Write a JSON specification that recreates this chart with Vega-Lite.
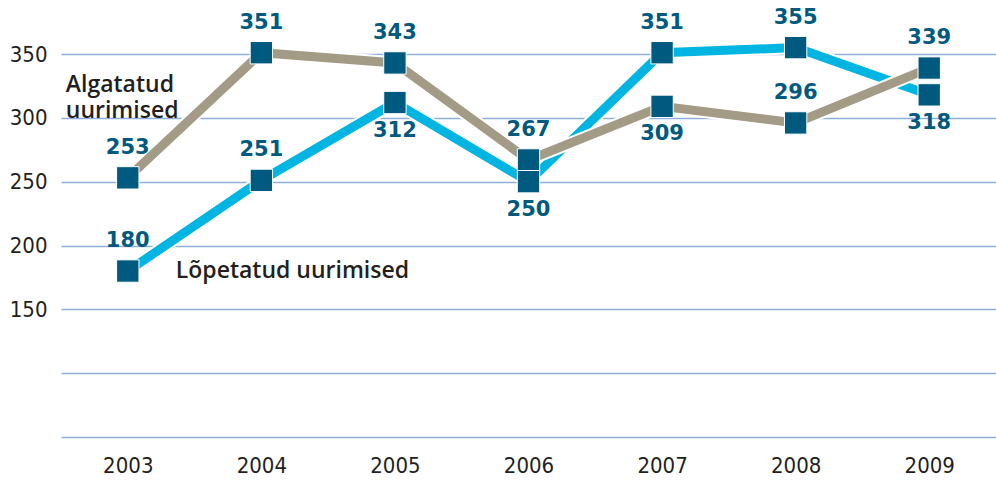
{
  "$schema": "https://vega.github.io/schema/vega-lite/v6.json",
  "autosize": "none",
  "padding": {"left": 61, "top": 0, "right": 0, "bottom": 59},
  "width": 935,
  "height": 437,
  "background": "white",
  "config": {"view": {"stroke": null}},
  "data": {"values": [
    {"year": "2003", "series": "Algatatud uurimised", "value": 253},
    {"year": "2004", "series": "Algatatud uurimised", "value": 351},
    {"year": "2005", "series": "Algatatud uurimised", "value": 343},
    {"year": "2006", "series": "Algatatud uurimised", "value": 267},
    {"year": "2007", "series": "Algatatud uurimised", "value": 309},
    {"year": "2008", "series": "Algatatud uurimised", "value": 296},
    {"year": "2009", "series": "Algatatud uurimised", "value": 339},
    {"year": "2003", "series": "Lõpetatud uurimised", "value": 180},
    {"year": "2004", "series": "Lõpetatud uurimised", "value": 251},
    {"year": "2005", "series": "Lõpetatud uurimised", "value": 312},
    {"year": "2006", "series": "Lõpetatud uurimised", "value": 250},
    {"year": "2007", "series": "Lõpetatud uurimised", "value": 351},
    {"year": "2008", "series": "Lõpetatud uurimised", "value": 355},
    {"year": "2009", "series": "Lõpetatud uurimised", "value": 318}
  ]},
  "encoding": {
    "x": {"field": "year", "type": "ordinal", "scale": {"type": "point", "padding": 0.5},
      "axis": {"title": null, "domain": false, "ticks": false, "labelAngle": 0, "labelFont": "DejaVu Sans Condensed", "labelFontSize": 22, "labelColor": "#231f20", "labelPadding": 18, "grid": false}},
    "y": {"field": "value", "type": "quantitative", "scale": {"domain": [50, 392.3], "nice": false, "zero": false},
      "axis": {"title": null, "domain": false, "ticks": false, "values": [50, 100, 150, 200, 250, 300, 350],
        "labelExpr": "datum.value >= 150 ? datum.label : ''", "labelFont": "DejaVu Sans Condensed", "labelFontSize": 22, "labelColor": "#231f20", "labelPadding": 14,
        "grid": true, "gridColor": "#8fb0dc", "gridWidth": 1.6, "gridOpacity": 1}}
  },
  "layer": [
    {"transform": [{"filter": "datum.series == 'Lõpetatud uurimised'"}],
     "mark": {"type": "line", "color": "white", "strokeWidth": 13, "strokeJoin": "miter"}},
    {"transform": [{"filter": "datum.series == 'Lõpetatud uurimised'"}],
     "mark": {"type": "line", "color": "#00b5e2", "strokeWidth": 9, "strokeJoin": "miter"}},
    {"transform": [{"filter": "datum.series == 'Algatatud uurimised'"}],
     "mark": {"type": "line", "color": "white", "strokeWidth": 13, "strokeJoin": "miter"}},
    {"transform": [{"filter": "datum.series == 'Algatatud uurimised'"}],
     "mark": {"type": "line", "color": "#a39b86", "strokeWidth": 9, "strokeJoin": "miter"}},
    {"mark": {"type": "square", "size": 500, "filled": true, "color": "#005a7f", "opacity": 1, "stroke": "white", "strokeWidth": 1}},
    {"transform": [{"filter": "!((datum.series == 'Algatatud uurimised' && datum.year == '2007') || (datum.series == 'Lõpetatud uurimised' && (datum.year == '2005' || datum.year == '2006' || datum.year == '2009')))"}],
     "mark": {"type": "text", "font": "DejaVu Sans", "fontWeight": "bold", "fontSize": 21, "color": "#005a7f", "baseline": "middle", "dy": -30},
     "encoding": {"text": {"field": "value", "type": "quantitative"}}},
    {"transform": [{"filter": "(datum.series == 'Algatatud uurimised' && datum.year == '2007') || (datum.series == 'Lõpetatud uurimised' && (datum.year == '2005' || datum.year == '2006' || datum.year == '2009'))"}],
     "mark": {"type": "text", "font": "DejaVu Sans", "fontWeight": "bold", "fontSize": 21, "color": "#005a7f", "baseline": "middle", "dy": 28},
     "encoding": {"text": {"field": "value", "type": "quantitative"}}},
    {"data": {"values": [{"year": "2003", "value": 325.7, "label": ["Algatatud", "uurimised"]}]},
     "mark": {"type": "text", "font": "Open Sans", "fontWeight": 600, "fontSize": 23, "color": "#231f20", "align": "left", "baseline": "middle", "dx": -62, "lineHeight": 26},
     "encoding": {"text": {"field": "label"}}},
    {"data": {"values": [{"year": "2003", "value": 180, "label": "Lõpetatud uurimised"}]},
     "mark": {"type": "text", "font": "Open Sans", "fontWeight": 600, "fontSize": 23, "color": "#231f20", "align": "left", "baseline": "middle", "dx": 48},
     "encoding": {"text": {"field": "label"}}}
  ]
}
